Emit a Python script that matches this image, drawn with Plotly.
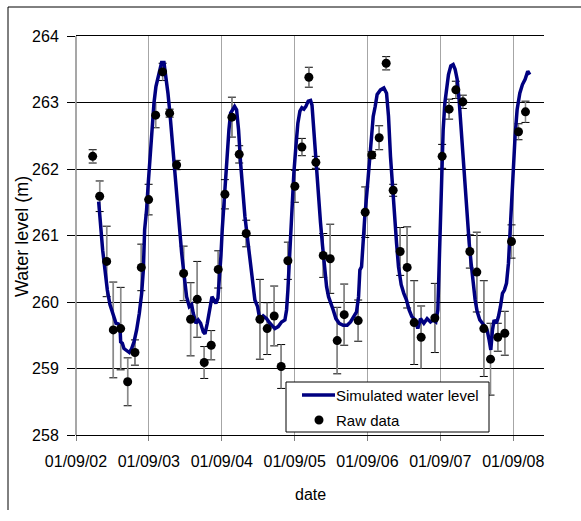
import plotly.graph_objects as go
import pandas as pd

# ---------------- data (decimal years, metres) ----------------
raw_year = [2002.895, 2002.991, 2003.087, 2003.178, 2003.279, 2003.375, 2003.475, 2003.562,
            2003.663, 2003.759, 2003.855, 2003.951, 2004.047, 2004.143, 2004.239, 2004.330,
            2004.426, 2004.522, 2004.618, 2004.710, 2004.806, 2004.906, 2005.002, 2005.190,
            2005.290, 2005.386, 2005.482, 2005.574, 2005.670, 2005.766, 2005.862, 2005.958,
            2006.059, 2006.155, 2006.251, 2006.347, 2006.539, 2006.635, 2006.726, 2006.827,
            2006.923, 2007.019, 2007.115, 2007.211, 2007.307, 2007.403, 2007.591, 2007.691,
            2007.787, 2007.879, 2007.975, 2008.071, 2008.167, 2008.263, 2008.355, 2008.455,
            2008.551, 2008.643, 2008.739, 2008.835]
raw_level = [262.19, 261.59, 260.61, 259.58, 259.60, 258.80, 259.24, 260.52,
             261.54, 262.81, 263.46, 262.84, 262.06, 260.43, 259.74, 260.04,
             259.09, 259.35, 260.49, 261.62, 262.78, 262.22, 261.03, 259.74,
             259.60, 259.79, 259.03, 260.62, 261.74, 262.33, 263.38, 262.10,
             260.70, 260.65, 259.42, 259.81, 259.72, 261.35, 262.21, 262.47,
             263.59, 261.68, 260.76, 260.52, 259.69, 259.47, 259.76, 262.19,
             262.90, 263.19, 263.01, 260.76, 260.45, 259.60, 259.14, 259.47,
             259.53, 260.91, 262.56, 262.86]
raw_err = [0.10, 0.23, 0.53, 0.72, 0.62, 0.36, 0.19, 0.35,
           0.23, 0.19, 0.13, 0.06, 0.07, 0.41, 0.55, 0.57,
           0.24, 0.22, 0.28, 0.22, 0.30, 0.13, 0.20, 0.60,
           0.39, 0.45, 0.33, 0.28, 0.24, 0.13, 0.15, 0.09,
           0.33, 0.52, 0.50, 0.46, 0.31, 0.38, 0.05, 0.18,
           0.10, 0.09, 0.36, 0.61, 0.63, 0.47, 0.52, 0.18,
           0.15, 0.13, 0.10, 0.25, 0.60, 0.72, 0.54, 0.21,
           0.33, 0.25, 0.12, 0.16]

sim_year = [2002.977, 2003.004, 2003.032, 2003.064, 2003.096, 2003.132, 2003.178, 2003.215,
            2003.247, 2003.270, 2003.279, 2003.302, 2003.324, 2003.361, 2003.398, 2003.430,
            2003.462, 2003.498, 2003.535, 2003.567, 2003.590, 2003.608, 2003.635, 2003.658,
            2003.681, 2003.709, 2003.736, 2003.763, 2003.800, 2003.841, 2003.873, 2003.901,
            2003.928, 2003.955, 2003.987, 2004.015, 2004.047, 2004.079, 2004.116, 2004.152,
            2004.184, 2004.221, 2004.253, 2004.275, 2004.312, 2004.344, 2004.376, 2004.413,
            2004.436, 2004.468, 2004.504, 2004.532, 2004.559, 2004.586, 2004.614, 2004.632,
            2004.655, 2004.673, 2004.696, 2004.719, 2004.742, 2004.765, 2004.788, 2004.815,
            2004.843, 2004.870, 2004.897, 2004.925, 2004.952, 2004.984, 2005.016, 2005.053,
            2005.089, 2005.121, 2005.158, 2005.190, 2005.236, 2005.282, 2005.327, 2005.396,
            2005.441, 2005.487, 2005.533, 2005.556, 2005.574, 2005.592, 2005.611, 2005.634,
            2005.656, 2005.684, 2005.711, 2005.739, 2005.766, 2005.794, 2005.821, 2005.853,
            2005.885, 2005.905, 2005.940, 2005.967, 2005.995, 2006.022, 2006.050, 2006.077,
            2006.105, 2006.132, 2006.164, 2006.196, 2006.233, 2006.278, 2006.333, 2006.388,
            2006.434, 2006.479, 2006.516, 2006.544, 2006.562, 2006.585, 2006.607, 2006.630,
            2006.662, 2006.690, 2006.717, 2006.745, 2006.772, 2006.799, 2006.845, 2006.891,
            2006.928, 2006.955, 2006.982, 2007.010, 2007.037, 2007.065, 2007.092, 2007.129,
            2007.165, 2007.202, 2007.238, 2007.275, 2007.321, 2007.357, 2007.394, 2007.440,
            2007.485, 2007.531, 2007.568, 2007.604, 2007.632, 2007.650, 2007.668, 2007.687,
            2007.705, 2007.728, 2007.751, 2007.778, 2007.810, 2007.842, 2007.869, 2007.897,
            2007.924, 2007.952, 2007.979, 2008.007, 2008.034, 2008.062, 2008.089, 2008.116,
            2008.144, 2008.171, 2008.208, 2008.244, 2008.281, 2008.308, 2008.336, 2008.359,
            2008.382, 2008.404, 2008.436, 2008.464, 2008.491, 2008.519, 2008.546, 2008.574,
            2008.601, 2008.619, 2008.638, 2008.665, 2008.692, 2008.720, 2008.757, 2008.793,
            2008.830, 2008.866, 2008.894]
sim_level = [261.51, 261.09, 260.78, 260.48, 260.18, 259.96, 259.78, 259.68,
             259.67, 259.62, 259.40, 259.38, 259.30, 259.27, 259.24, 259.30,
             259.40, 259.58, 259.83, 260.13, 260.48, 261.09, 261.39, 261.79,
             262.19, 262.59, 262.99, 263.24, 263.44, 263.60, 263.60, 263.40,
             263.14, 262.84, 262.44, 262.09, 261.59, 261.14, 260.74, 260.38,
             260.08, 259.93, 259.96, 259.83, 259.68, 259.73, 259.68, 259.55,
             259.52, 259.68, 259.88, 260.08, 260.03, 259.98, 260.06, 260.28,
             260.69, 261.09, 261.49, 261.84, 262.19, 262.59, 262.84, 262.89,
             262.94, 262.89, 262.59, 262.09, 261.69, 261.29, 260.99, 260.64,
             260.28, 260.03, 259.93, 259.73, 259.79, 259.75, 259.68, 259.60,
             259.63, 259.70, 259.73, 259.88, 260.18, 260.58, 261.09, 261.54,
             261.94, 262.34, 262.69, 262.87, 262.92, 262.90, 262.94, 263.02,
             263.03, 262.96, 262.39, 261.99, 261.59, 261.19, 260.84, 260.48,
             260.23, 260.08, 259.96, 259.88, 259.75, 259.68, 259.65, 259.65,
             259.70, 259.78, 259.85, 260.08, 260.48, 260.53, 260.94, 261.29,
             261.69, 262.09, 262.49, 262.79, 262.94, 263.12, 263.19, 263.22,
             263.14, 262.79, 262.19, 261.69, 261.29, 260.89, 260.53, 260.26,
             260.13, 260.03, 259.88, 259.78, 259.73, 259.60, 259.75, 259.68,
             259.75, 259.70, 259.73, 259.70, 259.88, 260.58, 261.59, 262.19,
             262.59, 262.99, 263.24, 263.42, 263.55, 263.57, 263.50, 263.35,
             263.04, 262.59, 262.09, 261.64, 261.24, 260.89, 260.58, 260.28,
             260.03, 259.86, 259.73, 259.68, 259.63, 259.58, 259.43, 259.28,
             259.58, 259.73, 259.68, 259.78, 259.93, 260.13, 260.18, 260.28,
             260.58, 260.99, 261.44, 261.89, 262.49, 262.89, 263.14, 263.27,
             263.35, 263.47, 263.42]

tick_dates = ["2002-09-01", "2003-09-01", "2004-09-01", "2005-09-01",
              "2006-09-01", "2007-09-01", "2008-09-01"]
tick_labels = ["01/09/02", "01/09/03", "01/09/04", "01/09/05",
               "01/09/06", "01/09/07", "01/09/08"]
y_ticks = [258, 259, 260, 261, 262, 263, 264]
legend_names = ["Simulated water level", "Raw data"]

BASE = pd.Timestamp("2002-09-01")


def to_dates(years):
    return [BASE + pd.to_timedelta((y - 2002.666) * 365.25, unit="D") for y in years]


raw_x = to_dates(raw_year)
sim_x = to_dates(sim_year)

FONT = "Liberation Sans, Arial, sans-serif"
NAVY = "#000080"

# figure geometry (pixels) used to place the hand-drawn legend box
W, H = 581, 521
ML, MR, MT, MB = 76, 37, 36, 86
PW, PH = W - ML - MR, H - MT - MB


def px(x):
    return (x - ML) / PW


def py(y):
    return (H - MB - y) / PH


fig = go.Figure()
# error bars: black caps, then grey stems on top
fig.add_trace(go.Scatter(x=raw_x, y=raw_level, mode="markers",
                         marker=dict(size=1, color="rgba(0,0,0,0)"),
                         error_y=dict(type="data", array=raw_err, visible=True,
                                      color="black", thickness=1, width=4),
                         showlegend=False, hoverinfo="skip"))
fig.add_trace(go.Scatter(x=raw_x, y=raw_level, mode="markers",
                         marker=dict(size=1, color="rgba(0,0,0,0)"),
                         error_y=dict(type="data", array=raw_err, visible=True,
                                      color="#8a8a8a", thickness=1.5, width=0),
                         showlegend=False, hoverinfo="skip"))
fig.add_trace(go.Scatter(x=sim_x, y=sim_level, mode="lines",
                         line=dict(color=NAVY, width=3.5),
                         name=legend_names[0], showlegend=False))
fig.add_trace(go.Scatter(x=raw_x, y=raw_level, mode="markers",
                         marker=dict(size=9, color="black"),
                         name=legend_names[1], showlegend=False))

shapes = [
    dict(type="line", xref="paper", yref="paper", x0=0, x1=0, y0=0, y1=1,
         line=dict(color="#8a8a8a", width=1.5)),
    # outer frame (top and left)
    dict(type="line", xref="paper", yref="paper", x0=px(8), x1=px(W + 5),
         y0=py(7), y1=py(7), line=dict(color="black", width=1)),
    dict(type="line", xref="paper", yref="paper", x0=px(8), x1=px(8),
         y0=py(7), y1=py(510), line=dict(color="black", width=1)),
    # legend box
    dict(type="rect", xref="paper", yref="paper", x0=px(286), x1=px(489),
         y0=py(432), y1=py(382), fillcolor="white",
         line=dict(color="black", width=1), layer="above"),
    dict(type="line", xref="paper", yref="paper", x0=px(302), x1=px(335),
         y0=py(395), y1=py(395), line=dict(color=NAVY, width=3.5), layer="above"),
    dict(type="circle", xref="paper", yref="paper", xsizemode="pixel", ysizemode="pixel",
         xanchor=px(319), yanchor=py(420), x0=-4.5, x1=4.5, y0=-4.5, y1=4.5,
         fillcolor="black", line=dict(color="black", width=0), layer="above"),
]

annotations = [
    dict(text="Water level (m)", xref="paper", yref="paper", x=px(22), y=py(237),
         xanchor="center", yanchor="middle", textangle=-90, showarrow=False,
         font=dict(size=18)),
    dict(text="date", xref="paper", yref="paper", x=px(310), y=py(494),
         xanchor="center", yanchor="middle", showarrow=False, font=dict(size=16)),
    dict(text=legend_names[0], xref="paper", yref="paper", x=px(334), y=py(395),
         xanchor="left", yanchor="middle", showarrow=False, font=dict(size=15)),
    dict(text=legend_names[1], xref="paper", yref="paper", x=px(334), y=py(420),
         xanchor="left", yanchor="middle", showarrow=False, font=dict(size=15)),
]

fig.update_layout(
    width=W, height=H,
    margin=dict(l=ML, r=MR, t=MT, b=MB),
    paper_bgcolor="white", plot_bgcolor="white",
    font=dict(family=FONT, size=16, color="black"),
    showlegend=False,
    xaxis=dict(type="date", range=["2002-09-01", "2009-02-02"],
               tickmode="array", tickvals=tick_dates, ticktext=tick_labels,
               showgrid=True, gridcolor="#a6a6a6", gridwidth=1,
               ticks="outside", ticklen=5, tickcolor="#808080",
               ticklabelstandoff=7, tickfont=dict(size=16),
               showline=True, linecolor="black", linewidth=1, mirror=True,
               zeroline=False),
    yaxis=dict(range=[258, 264], tickmode="array", tickvals=y_ticks,
               showgrid=True, gridcolor="black", gridwidth=1,
               ticks="outside", ticklen=8, tickcolor="black",
               ticklabelstandoff=5, tickfont=dict(size=16),
               showline=False, zeroline=False),
    shapes=shapes,
    annotations=annotations,
)

fig.write_html("out.html")
